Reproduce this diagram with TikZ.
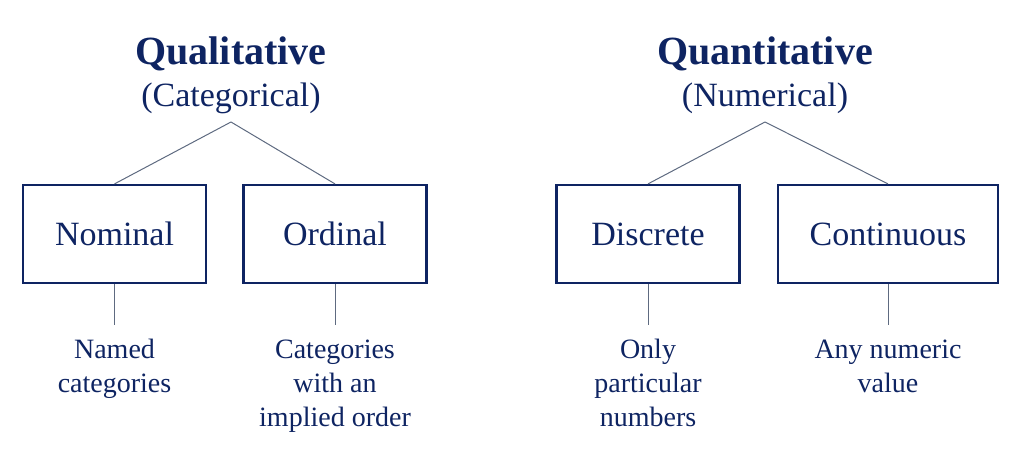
\documentclass[tikz,border=0pt]{standalone}
\usepackage{fontspec}
\setmainfont{Liberation Serif}
\usepackage{xcolor}
\usepackage{tikz}
\usetikzlibrary{positioning, calc}
\definecolor{navy}{HTML}{0E2462}
\definecolor{linkgray}{HTML}{5E6A80}

\begin{document}
\begin{tikzpicture}[x=0.5pt, y=-0.5pt,
	heading/.style={anchor=base, inner sep=0pt, text=navy, font=\fontsize{20}{24}\selectfont\bfseries},
	subheading/.style={anchor=base, inner sep=0pt, text=navy, font=\fontsize{17}{20}\selectfont},
	kind/.style={draw=navy, line width=1.1pt, minimum height=49pt, minimum width=91.5pt, text=navy, font=\fontsize{17}{20}\selectfont},
	note/.style={anchor=north, inner sep=0pt, align=center, text=navy, font=\fontsize{14}{17}\selectfont},
	link/.style={draw=linkgray, line width=0.5pt}]
	\useasboundingbox (0,0) rectangle (1024,464);
	
	% left branch
	\node[heading](qual) at (231,65) {Qualitative};
	\node[subheading](categ) at (231,107) {(Categorical)};
	\coordinate (qualtop) at (231,122);
	
	\node[kind](nominal) at (114.5,234) {Nominal};
	\node[kind](ordinal) at (335,234) {Ordinal};
	
	% right branch
	\node[heading](quant) at (765,65) {Quantitative};
	\node[subheading](numer) at (765,107) {(Numerical)};
	\coordinate (quanttop) at (765,122);
	
	\node[kind](discrete) at (648,234) {Discrete};
	\node[kind, minimum width=110pt](continuous) at (888,234) {Continuous};
	
	\foreach \top/\a/\b in {qualtop/nominal/ordinal, quanttop/discrete/continuous} {
		\draw[link] (\top) -- (\a.north);
		\draw[link] (\top) -- (\b.north);
	}
	
	% stems and notes
	\foreach \k in {nominal, ordinal, discrete, continuous} {
		\coordinate[below=20.5pt of \k.south] (\k-end);
		\draw[link] (\k.south) -- (\k-end);
	}
	
	\node[note, below=7pt of nominal-end](nominalnote) {Named\\categories};
	\node[note, below=7pt of ordinal-end](ordinalnote) {Categories\\with an\\implied order};
	\node[note, below=7pt of discrete-end](discretenote) {Only\\particular\\numbers};
	\node[note, below=7pt of continuous-end](continuousnote) {Any numeric\\value};
	
\end{tikzpicture}
\end{document}
